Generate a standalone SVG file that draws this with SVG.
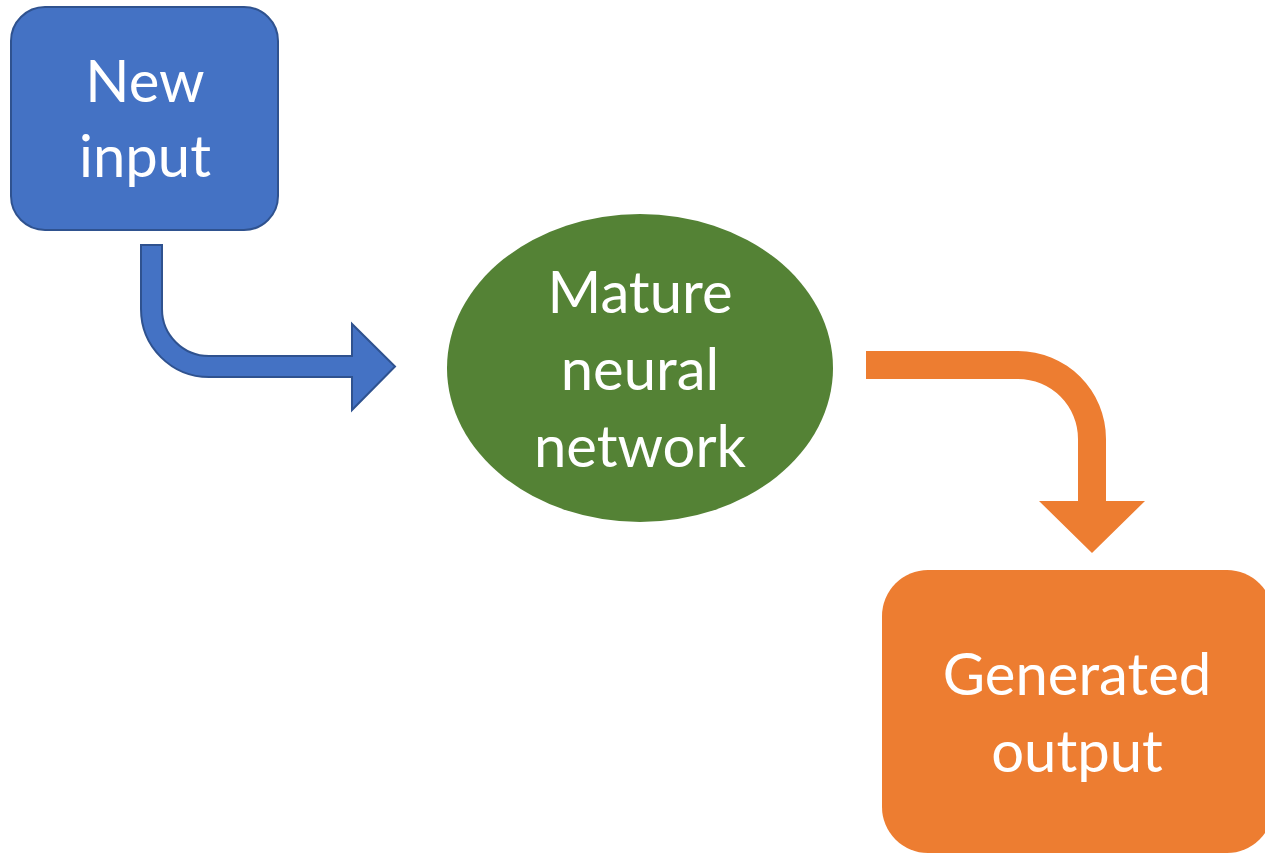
<svg xmlns="http://www.w3.org/2000/svg" width="1265" height="856" viewBox="0 0 1265 856">
<style>
.lbl{font-family:Lato,"Open Sans","Liberation Sans",sans-serif;font-size:58px;fill:#ffffff;text-anchor:middle}
</style>
<rect width="1265" height="856" fill="#ffffff"/>
<g id="connectors">
<path id="arrow-blue" d="M141,245 H162 V309 A47,47 0 0 0 209,356 H352 V324 L395,366.5 L352,410 V377 H209 A68,68 0 0 1 141,309 Z" fill="#4472C4" stroke="#2F528F" stroke-width="2" stroke-linejoin="miter"/>
<path id="arrow-orange" d="M866,351 H1018 A88,88 0 0 1 1106,439 V501 H1145 L1092,553 L1039,501 H1078 V439 A60,60 0 0 0 1018,379 H866 Z" fill="#ED7D31"/>
</g>
<g id="node-new-input">
<rect x="11" y="7" width="267" height="223" rx="34" ry="34" fill="#4472C4" stroke="#2F528F" stroke-width="2"/>
<text class="lbl" x="145" y="102">New</text>
<text class="lbl" x="145" y="177">input</text>
</g>
<g id="node-mature">
<ellipse cx="640" cy="368" rx="193" ry="154" fill="#548235"/>
<text class="lbl" x="640" y="313">Mature</text>
<text class="lbl" x="640" y="390">neural</text>
<text class="lbl" x="640" y="467">network</text>
</g>
<g id="node-output">
<rect x="882" y="570" width="391" height="283" rx="46" ry="46" fill="#ED7D31"/>
<text class="lbl" x="1077" y="695">Generated</text>
<text class="lbl" x="1077" y="772">output</text>
</g>
</svg>
